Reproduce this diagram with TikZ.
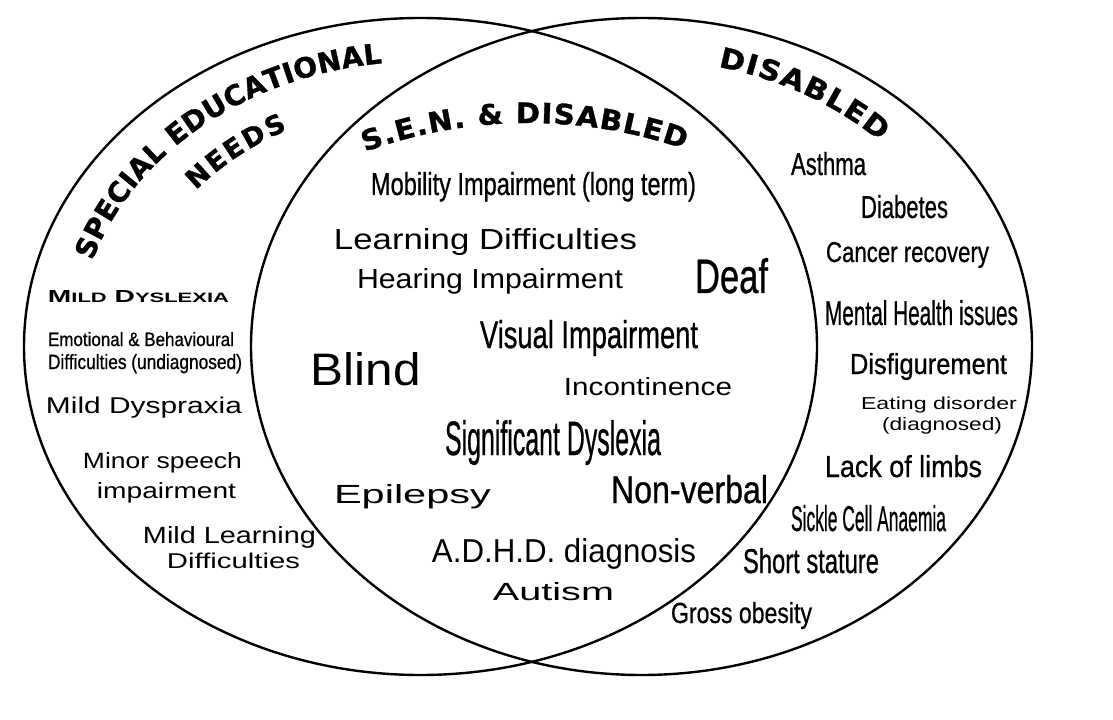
\documentclass[tikz,border=0pt]{standalone}
\usepackage{fontspec}
\setmainfont{Liberation Sans}
\newfontfamily\titlefont{DejaVu Sans}[BoldFeatures={FakeBold=1.2}]
\newfontfamily\titlemid{DejaVu Sans}[BoldFeatures={FakeBold=1.2,FakeStretch=1.04}]
\newfontfamily\titlewide{DejaVu Sans}[BoldFeatures={FakeBold=1.2,FakeStretch=1.08}]
\newfontfamily\condfont{Liberation Sans}[FakeBold=0.8]
\usetikzlibrary{decorations.text}
\newdimen\pxu \pxu=0.75pt
\newcommand\fitbox[3]{\resizebox{#1\pxu}{#2\pxu}{#3}}
\newcommand\condbox[3]{\resizebox{#1\pxu}{#2\pxu}{\condfont #3}}
\tikzset{
  lbl/.style={inner sep=0pt, outer sep=0pt, anchor=base},
  lblw/.style={inner sep=0pt, outer sep=0pt, anchor=base west},
  ring/.style={line width=1.8pt}
}
\begin{document}
\begin{tikzpicture}[x=0.75pt,y=-0.75pt]
\useasboundingbox (0,0) rectangle (1113,720);
\fill[white] (0,0) rectangle (1113,720);
% circles
\draw[ring] (420.5,346.5) ellipse [x radius=297.375pt, y radius=246.375pt];
\draw[ring] (641.5,346.5) ellipse [x radius=292.875pt, y radius=246.375pt];
% centres of the title arcs
\coordinate (cL) at (420.5,346.5);
\coordinate (cR) at (641.5,346.5);
\coordinate (cM) at (528.5,601);
% curved titles
\path[decorate, decoration={text along path, text align=fit to path,
  text={|\titlefont\bfseries\fontsize{21}{25}\selectfont|SPECIAL EDUCATIONAL}}]
  (cL) ++(162.5:258pt and 213.75pt) arc[start angle=162.5, end angle=96.4, x radius=258pt, y radius=213.75pt];
\path[decorate, decoration={text along path, text align=fit to path,
  text={|\titlefont\bfseries\fontsize{20}{24}\selectfont|NEEDS}}]
  (cL) ++(140:219.75pt and 182.25pt) arc[start angle=140, end angle=117, x radius=219.75pt, y radius=182.25pt];
\path[decorate, decoration={text along path, text align=fit to path,
  text={|\titlemid\bfseries\fontsize{21}{25}\selectfont|S.E.N. {\&} DISABLED}}]
  (cM) ++(110:358.5pt) arc[start angle=110, end angle=71, radius=358.5pt];
\path[decorate, decoration={text along path, text align=fit to path,
  text={|\titlewide\bfseries\fontsize{21}{25}\selectfont|DISABLED}}]
  (cR) ++(77:255.75pt and 215.25pt) arc[start angle=77, end angle=45.6, x radius=255.75pt, y radius=215.25pt];
% left region
\node[lbl] (mdys) at (138.5,302) {\fitbox{181}{12}{\bfseries M{\fontsize{7.8}{9}\selectfont ILD} D{\fontsize{7.8}{9}\selectfont YSLEXIA}}};
\node[lblw] (emo1) at (48,346) {\condbox{186}{14}{Emotional \& Behavioural}};
\node[lblw] (emo2) at (48,369) {\condbox{194}{15}{Difficulties (undiagnosed)}};
\node[lbl] (mdysp) at (144,413) {\fitbox{196}{16.5}{Mild Dyspraxia}};
\node[lbl] (minor1) at (162.5,468) {\fitbox{159}{16}{Minor speech}};
\node[lbl] (minor2) at (166.5,498) {\fitbox{139}{16}{impairment}};
\node[lbl] (mld1) at (229.5,543) {\fitbox{173}{17}{Mild Learning}};
\node[lbl] (mld2) at (233.5,568) {\fitbox{133}{15.5}{Difficulties}};
% middle region
\node[lbl] (mob) at (533.5,195) {\condbox{325}{23}{Mobility Impairment (long term)}};
\node[lbl] (ld) at (485.5,249) {\fitbox{303}{21}{Learning Difficulties}};
\node[lbl] (hi) at (490,288) {\fitbox{266}{20}{Hearing Impairment}};
\node[lbl] (deaf) at (731.5,293) {\condbox{73}{35}{Deaf}};
\node[lbl] (vi) at (589,348) {\condbox{218}{28}{Visual Impairment}};
\node[lbl] (blind) at (366,385) {\fitbox{110}{33}{Blind}};
\node[lbl] (inc) at (648,395) {\fitbox{168}{18}{Incontinence}};
\node[lbl] (sd) at (553,455) {\condbox{216}{35}{Significant Dyslexia}};
\node[lbl] (nv) at (689.5,503) {\condbox{157}{28}{Non-verbal}};
\node[lbl] (epi) at (412.5,503) {\fitbox{157}{19}{Epilepsy}};
\node[lbl] (adhd) at (564,562) {\fitbox{264}{24}{A.D.H.D. diagnosis}};
\node[lbl] (aut) at (553.5,600) {\fitbox{121}{18}{Autism}};
% right region
\node[lbl] (asth) at (828.5,175) {\condbox{75}{23}{Asthma}};
\node[lbl] (diab) at (904.5,218) {\condbox{87}{23}{Diabetes}};
\node[lbl] (canc) at (907.5,262) {\condbox{163}{20}{Cancer recovery}};
\node[lbl] (ment) at (921.5,325) {\condbox{193}{25}{Mental Health issues}};
\node[lbl] (disf) at (928.5,374) {\condbox{157}{21}{Disfigurement}};
\node[lbl] (eat1) at (939,409) {\fitbox{156}{12.5}{Eating disorder}};
\node[lbl] (eat2) at (942,430) {\fitbox{120}{13}{(diagnosed)}};
\node[lbl] (lack) at (903.5,477) {\condbox{157}{22}{Lack of limbs}};
\node[lbl] (sick) at (868.5,531) {\condbox{155}{26}{Sickle Cell Anaemia}};
\node[lbl] (short) at (811,573) {\condbox{136}{25}{Short stature}};
\node[lbl] (gross) at (741.5,623) {\condbox{141}{21}{Gross obesity}};
\end{tikzpicture}
\end{document}
